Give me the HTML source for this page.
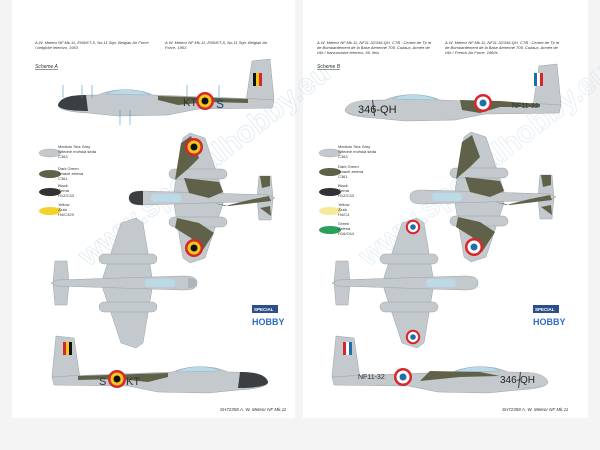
<!DOCTYPE html>
<html><head><meta charset="utf-8"><style>
html,body{margin:0;padding:0;background:#f4f4f4;}
svg{display:block;font-family:"Liberation Sans",sans-serif;}
</style></head><body>
<svg width="600" height="450" viewBox="0 0 600 450" xmlns="http://www.w3.org/2000/svg">
<defs>
<g id="side">
  <path d="M188,-2 L194,-42 L212,-44 L216,-4 L214,4 L188,4 Z" fill="#c3c9cc" stroke="#9aa3a8" stroke-width="0.5"/>
  <path d="M0,2 C2,-6 20,-8 40,-8 C55,-15 80,-15 95,-8 L200,-4 L216,-3 L214,5 L140,6 L110,12 L60,13 L30,10 C10,9 0,6 0,2 Z" fill="#c3c9cc" stroke="#9aa3a8" stroke-width="0.5"/>
  <path d="M0,2 C2,-6 14,-8 28,-8 L30,8 C12,8 0,6 0,2 Z" fill="#3b3f42"/>
  <path d="M48,-9 C58,-15 80,-15 92,-8 Z" fill="#bcd9e8" stroke="#8fb4c8" stroke-width="0.5"/>
</g>
<g id="sidecamo">
  <path d="M100,-7 L190,-4 L190,0 L150,-1 L120,2 L100,-3 Z" fill="#5f6249"/>
</g>
<g id="top">
  <path d="M128,0 L130,-22 L142,-22 L144,0 L142,22 L130,22 Z" fill="#c3c9cc" stroke="#9aa3a8" stroke-width="0.5"/>
  <path d="M45,-6 L54,-60 L61,-65 L76,-60 L94,-6 L94,6 L76,60 L61,65 L54,60 L45,6 Z" fill="#c3c9cc" stroke="#9aa3a8" stroke-width="0.5"/>
  <rect x="40" y="-29" width="58" height="10" rx="5" fill="#c3c9cc" stroke="#9aa3a8" stroke-width="0.5"/>
  <rect x="40" y="19" width="58" height="10" rx="5" fill="#c3c9cc" stroke="#9aa3a8" stroke-width="0.5"/>
  <path d="M0,0 C0,-6 6,-7 14,-7 L140,-3 L146,0 L140,3 L14,7 C6,7 0,6 0,0 Z" fill="#c3c9cc" stroke="#9aa3a8" stroke-width="0.5"/>
  <rect x="22" y="-4" width="30" height="8" rx="3" fill="#bcd9e8"/>
</g>
<g id="topcamo">
  <path d="M0,0 C0,-6 6,-7 14,-7 L14,7 C6,7 0,6 0,0 Z" fill="#3b3f42"/>
  <path d="M52,-55 L62,-62 L70,-40 L60,-30 L46,-18 Z M55,-20 L90,-16 L94,-6 L80,0 L60,-5 Z M85,5 L96,8 L120,2 L140,-2 L142,3 L100,8 Z M48,20 L70,25 L85,35 L72,55 L62,40 L46,30 Z M131,-22 L141,-22 L141,-12 L133,-10 Z M131,10 L141,8 L142,18 Z" fill="#5f6249"/>
</g>
<g id="rb"><circle r="9" fill="#d8262a"/><circle r="6.5" fill="#f2c81b"/><circle r="3.5" fill="#111"/></g>
<g id="rf"><circle r="9" fill="#d8262a"/><circle r="6.5" fill="#fff"/><circle r="3.5" fill="#1e6fa5"/></g>
</defs>

<rect x="12" y="0" width="283" height="418" fill="#fff"/>
<rect x="303" y="0" width="285" height="418" fill="#fff"/>

<!-- watermark -->
<text x="60" y="215" font-size="30" font-weight="bold" fill="none" stroke="#c9dbe6" stroke-width="0.8" transform="rotate(-38 150 200)" opacity="0.6">www.specialhobby.eu</text>
<text x="340" y="215" font-size="30" font-weight="bold" fill="none" stroke="#c9dbe6" stroke-width="0.8" transform="rotate(-38 430 200)" opacity="0.5">www.specialhobby.eu</text>

<!-- LEFT PAGE -->
<g font-size="4" font-style="italic" fill="#333">
<text x="35" y="44">A.W. Meteor NF Mk.11, EN5/KT-S, No.11 Sqn. Belgian Air Force</text>
<text x="35" y="49">/ belgické letectvo, 1953</text>
<text x="165" y="44">A.W. Meteor NF Mk.11, EN5/KT-S, No.11 Sqn. Belgian Air</text>
<text x="165" y="49">Force, 1953</text>
<text x="35" y="68" font-size="5" text-decoration="underline">Scheme A</text>
</g>
<use href="#side" transform="translate(58,103)"/>
<use href="#sidecamo" transform="translate(58,103)"/>
<rect x="253" y="73" width="3" height="13" fill="#111"/><rect x="256" y="73" width="3" height="13" fill="#f2c81b"/><rect x="259" y="73" width="3" height="13" fill="#d8262a"/>
<use href="#rb" transform="translate(205,101)"/>
<text x="183" y="106" font-size="11" fill="#333">KT</text>
<text x="216" y="108" font-size="12" fill="#1f3f70">S</text>
<g stroke="#4a9ac0" stroke-width="0.6"><line x1="63" y1="85" x2="63" y2="98"/><line x1="82" y1="85" x2="82" y2="98"/><line x1="92" y1="85" x2="92" y2="98"/><line x1="187" y1="85" x2="187" y2="97"/><line x1="219" y1="85" x2="219" y2="97"/><line x1="120" y1="110" x2="120" y2="125"/><line x1="130" y1="110" x2="130" y2="125"/></g>

<g font-size="4" fill="#333">
<ellipse cx="50" cy="153" rx="11" ry="4" fill="#c3c9cc" stroke="#999" stroke-width="0.4"/><text x="58" y="148">Medium Sea Grey</text><text x="58" y="153">Středně mořská šedá</text><text x="58" y="158">C363</text>
<ellipse cx="50" cy="174" rx="11" ry="4" fill="#5f6249"/><text x="58" y="170">Dark Green</text><text x="58" y="175">Tmavě zelená</text><text x="58" y="180">C361</text>
<ellipse cx="50" cy="192" rx="11" ry="4" fill="#333"/><text x="58" y="187">Black</text><text x="58" y="192">Černá</text><text x="58" y="197">H12/C33</text>
<ellipse cx="50" cy="211" rx="11" ry="4" fill="#f2d22a"/><text x="58" y="206">Yellow</text><text x="58" y="211">Žlutá</text><text x="58" y="216">H4/C329</text>
</g>

<use href="#top" transform="translate(129,198)"/>
<use href="#topcamo" transform="translate(129,198)"/>
<use href="#rb" transform="translate(194,147)"/>
<use href="#rb" transform="translate(194,248)"/>

<use href="#top" transform="translate(197,283) scale(-1,1)"/>
<path d="M197,283 C197,279 193,278 188,278 L188,288 C193,288 197,287 197,283 Z" fill="#aeb6ba"/>

<rect x="252" y="305" width="26" height="8" fill="#2d4e8a"/><text x="254" y="311" font-size="4.5" fill="#fff" font-weight="bold">SPECIAL</text>
<text x="252" y="325" font-size="9" fill="#2d6fc0" font-weight="bold">HOBBY</text>

<use href="#side" transform="translate(268,380) scale(-1,1)"/>
<use href="#sidecamo" transform="translate(268,380) scale(-1,1)"/>
<rect x="63" y="342" width="3" height="13" fill="#d8262a"/><rect x="66" y="342" width="3" height="13" fill="#f2c81b"/><rect x="69" y="342" width="3" height="13" fill="#111"/>
<use href="#rb" transform="translate(117,379)"/>
<text x="99" y="385" font-size="11" fill="#333">S</text>
<text x="126" y="385" font-size="11" fill="#333">KT</text>
<text x="220" y="411" font-size="4.5" font-style="italic" fill="#333">SH72358  A. W. Meteor NF Mk.11</text>

<!-- RIGHT PAGE -->
<g font-size="4" font-style="italic" fill="#333">
<text x="317" y="44">A.W. Meteor NF Mk.11, NF11-32/346-QH, CTB - Centre de Tir et</text>
<text x="317" y="49">de Bombardement de la Base Aérienne 709, Cazaux, Armée de</text>
<text x="317" y="54">l'Air / francouzské letectvo, 60. léta</text>
<text x="445" y="44">A.W. Meteor NF Mk.11, NF11-32/346-QH, CTB - Centre de Tir et</text>
<text x="445" y="49">de Bombardement de la Base Aérienne 709, Cazaux, Armée de</text>
<text x="445" y="54">l'Air / French Air Force, 1960s</text>
<text x="317" y="68" font-size="5" text-decoration="underline">Scheme B</text>
</g>
<use href="#side" transform="translate(345,108)"/>
<path d="M345,110 C347,102 358,100 372,100 L374,116 C356,116 345,114 345,110 Z" fill="#c3c9cc"/>
<path d="M460,100 L500,101 L540,104 L540,107 L500,107 L480,113 L462,110 Z" fill="#5f6249"/>
<rect x="534" y="73" width="3" height="13" fill="#1e6fa5"/><rect x="537" y="73" width="3" height="13" fill="#fff"/><rect x="540" y="73" width="3" height="13" fill="#d8262a"/>
<use href="#rf" transform="translate(483,103)"/>
<text x="358" y="113" font-size="11" fill="#222">346-QH</text>
<text x="512" y="108" font-size="7" fill="#333">NF11-32</text>

<g font-size="4" fill="#333">
<ellipse cx="330" cy="153" rx="11" ry="4" fill="#c3c9cc" stroke="#999" stroke-width="0.4"/><text x="338" y="148">Medium Sea Grey</text><text x="338" y="153">Středně mořská šedá</text><text x="338" y="158">C363</text>
<ellipse cx="330" cy="172" rx="11" ry="4" fill="#5f6249"/><text x="338" y="168">Dark Green</text><text x="338" y="173">Tmavě zelená</text><text x="338" y="178">C361</text>
<ellipse cx="330" cy="192" rx="11" ry="4" fill="#333"/><text x="338" y="187">Black</text><text x="338" y="192">Černá</text><text x="338" y="197">H12/C33</text>
<ellipse cx="330" cy="211" rx="11" ry="4" fill="#f4ea9a"/><text x="338" y="206">Yellow</text><text x="338" y="211">Žlutá</text><text x="338" y="216">H4/C4</text>
<ellipse cx="330" cy="230" rx="11" ry="4" fill="#2aa05a"/><text x="338" y="225">Green</text><text x="338" y="230">Zelená</text><text x="338" y="235">H16/C64</text>
</g>

<use href="#top" transform="translate(410,197)"/>
<use href="#topcamo" transform="translate(410,197)"/>
<path d="M410,197 C410,191 416,190 424,190 L424,204 C416,204 410,203 410,197 Z" fill="#c3c9cc"/>
<use href="#rf" transform="translate(474,247)"/>

<use href="#top" transform="translate(478,283) scale(-1,1)"/>
<use href="#rf" transform="translate(413,227) scale(0.8)"/>
<use href="#rf" transform="translate(413,337) scale(0.8)"/>

<rect x="533" y="305" width="26" height="8" fill="#2d4e8a"/><text x="535" y="311" font-size="4.5" fill="#fff" font-weight="bold">SPECIAL</text>
<text x="533" y="325" font-size="9" fill="#2d6fc0" font-weight="bold">HOBBY</text>

<use href="#side" transform="translate(548,380) scale(-1,1)"/>
<path d="M548,382 C546,374 535,372 521,372 L519,388 C537,388 548,386 548,382 Z" fill="#c3c9cc"/>
<path d="M430,371 L480,372 L500,376 L460,377 L420,381 Z" fill="#5f6249"/>
<rect x="343" y="342" width="3" height="13" fill="#d8262a"/><rect x="346" y="342" width="3" height="13" fill="#fff"/><rect x="349" y="342" width="3" height="13" fill="#1e6fa5"/>
<use href="#rf" transform="translate(403,377)"/>
<text x="358" y="379" font-size="7" fill="#333">NF11-32</text>
<text x="500" y="383" font-size="10" fill="#222">346-QH</text>
<text x="502" y="411" font-size="4.5" font-style="italic" fill="#333">SH72358  A. W. Meteor NF Mk.11</text>
</svg>
</body></html>
